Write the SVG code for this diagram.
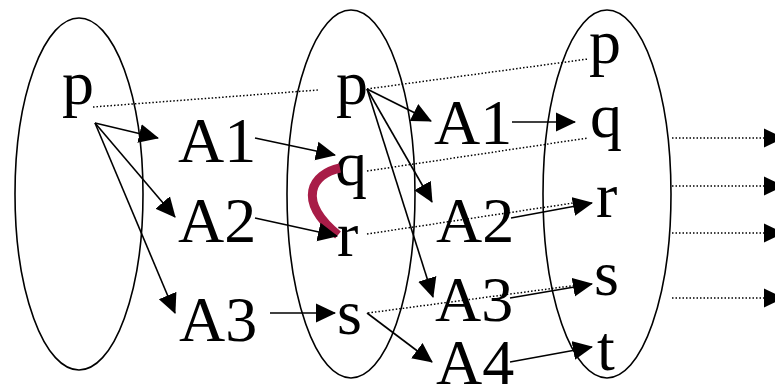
<svg xmlns="http://www.w3.org/2000/svg" width="775" height="385" viewBox="0 0 775 385">
<defs>
<marker id="ah" viewBox="0 0 20 20" markerWidth="20" markerHeight="20" markerUnits="userSpaceOnUse" refX="19" refY="10" orient="auto">
<path d="M0,0.5 L20,10 L0,19.5 z" fill="#000"/>
</marker>
<style>
text{font-family:"Liberation Serif","Times New Roman",serif;font-size:64px;fill:#000}
.set{fill:none;stroke:#000;stroke-width:1.6}
.arr{stroke:#000;stroke-width:1.6;fill:none;marker-end:url(#ah)}
.dot{stroke:#000;stroke-width:1.5;fill:none;stroke-dasharray:1.5 2}
.darr{stroke:#000;stroke-width:1.5;fill:none;stroke-dasharray:1.5 2;marker-end:url(#ah)}
</style>
</defs>
<g id="set1"><ellipse class="set" cx="79" cy="194" rx="64" ry="176"/></g>
<g id="set2"><ellipse class="set" cx="351" cy="194" rx="64" ry="184"/></g>
<g id="set3"><ellipse class="set" cx="607" cy="194" rx="64" ry="184"/></g>
<g id="p1"><text x="62" y="104">p</text></g>
<g id="a1l"><text x="178" y="162">A1</text></g>
<g id="a2l"><text x="178" y="242">A2</text></g>
<g id="a3l"><text x="179" y="341">A3</text></g>
<g id="p2"><text x="336" y="104">p</text></g>
<g id="q2"><text x="335" y="185">q</text></g>
<g id="r2"><text x="337" y="256">r</text></g>
<g id="s2"><text x="337" y="334">s</text></g>
<g id="a1r"><text x="434" y="144">A1</text></g>
<g id="a2r"><text x="436" y="242">A2</text></g>
<g id="a3r"><text x="435" y="321">A3</text></g>
<g id="a4r"><text x="436" y="384">A4</text></g>
<g id="p3"><text x="589" y="63">p</text></g>
<g id="q3"><text x="590" y="137">q</text></g>
<g id="r3"><text x="596" y="217">r</text></g>
<g id="s3"><text x="594" y="295">s</text></g>
<g id="t3"><text x="597" y="370">t</text></g>
<g id="conflict"><path d="M340,168 C312,174 296,200 338,235" fill="none" stroke="#A81C47" stroke-width="9"/></g>
<g id="connectors">
<line class="dot" x1="93" y1="107" x2="318" y2="90"/>
<line class="dot" x1="367" y1="89" x2="588" y2="59"/>
<line class="dot" x1="367" y1="171" x2="588" y2="138"/>
<line class="dot" x1="367" y1="234" x2="580" y2="202"/>
<line class="dot" x1="368" y1="313" x2="578" y2="285"/>
<line class="arr" x1="95" y1="123" x2="158" y2="138"/>
<line class="arr" x1="95" y1="123" x2="175" y2="217"/>
<line class="arr" x1="95" y1="123" x2="175" y2="313"/>
<line class="arr" x1="255" y1="138" x2="335" y2="155"/>
<line class="arr" x1="255" y1="218" x2="337" y2="236"/>
<line class="arr" x1="270" y1="313" x2="335" y2="313"/>
<line class="arr" x1="367" y1="89" x2="431" y2="121"/>
<line class="arr" x1="367" y1="89" x2="432" y2="202"/>
<line class="arr" x1="367" y1="89" x2="433" y2="297"/>
<line class="arr" x1="367" y1="313" x2="432" y2="362"/>
<line class="arr" x1="512" y1="122" x2="575" y2="122"/>
<line class="arr" x1="511" y1="218" x2="592" y2="203"/>
<line class="arr" x1="510" y1="298" x2="592" y2="284"/>
<line class="arr" x1="510" y1="362" x2="592" y2="347"/>
<line class="darr" x1="672" y1="138" x2="783" y2="138"/>
<line class="darr" x1="672" y1="186" x2="783" y2="186"/>
<line class="darr" x1="672" y1="233" x2="783" y2="233"/>
<line class="darr" x1="672" y1="298" x2="783" y2="298"/>
</g>
</svg>
